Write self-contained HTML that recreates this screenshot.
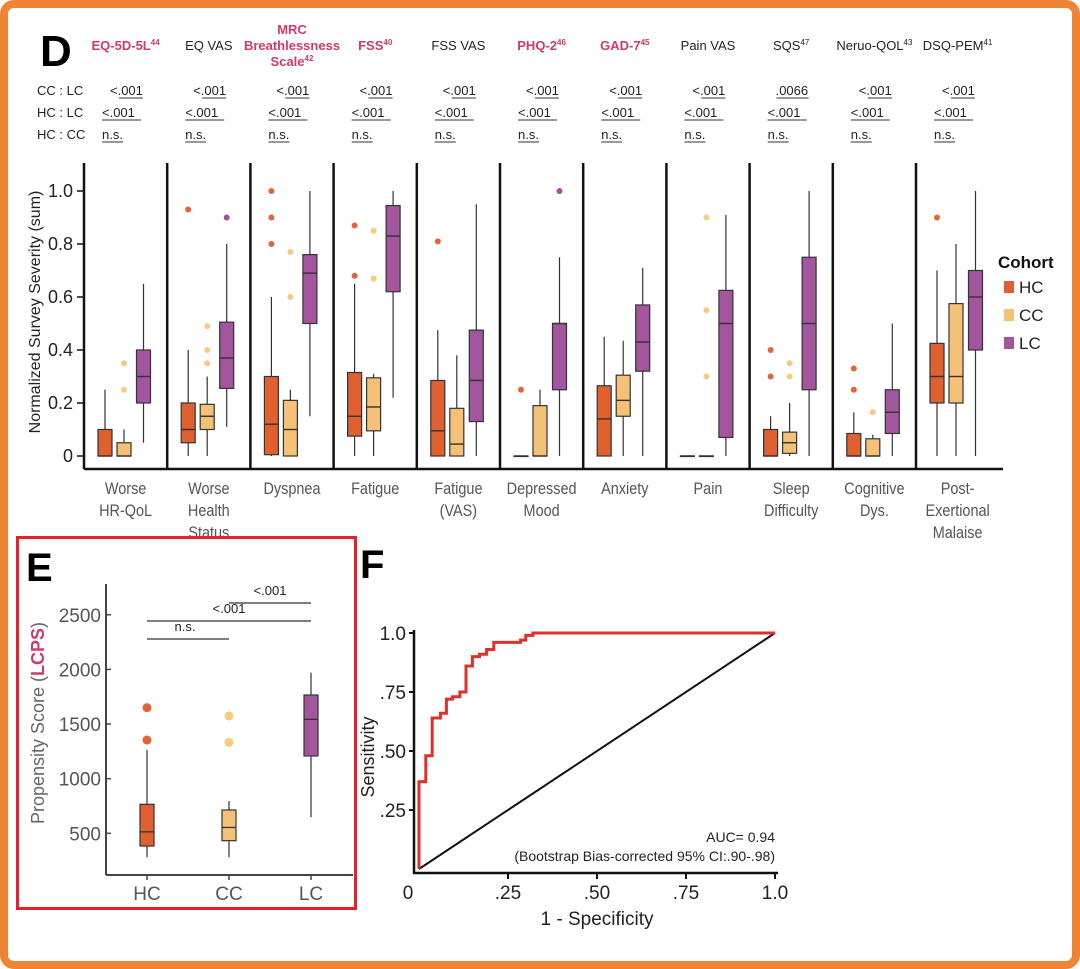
<!DOCTYPE html>
<html><head><meta charset="utf-8">
<style>
html,body{margin:0;padding:0;background:#fff;}
svg{display:block;font-family:"Liberation Sans",Arial,sans-serif;}
</style></head>
<body>
<svg id="fig" width="1080" height="969" viewBox="0 0 1080 969" xmlns="http://www.w3.org/2000/svg">
<rect x="4" y="4" width="1072" height="961" rx="10" fill="#fff" stroke="#ee8434" stroke-width="8"/>
<g id="panelD"></g>
<g id="panelE"></g>
<g id="panelF"></g>
</svg>
<script>
// ---------- Panel D data ----------
const categories = ["Worse HR-QoL","Worse Health Status","Dyspnea","Fatigue","Fatigue (VAS)","Depressed Mood","Anxiety","Pain","Sleep Difficulty","Cognitive Dys.","Post-Exertional Malaise"];
const catLines = [["Worse","HR-QoL"],["Worse","Health","Status"],["Dyspnea"],["Fatigue"],["Fatigue","(VAS)"],["Depressed","Mood"],["Anxiety"],["Pain"],["Sleep","Difficulty"],["Cognitive","Dys."],["Post-","Exertional","Malaise"]];
const surveys = [["EQ-5D-5L","44",1],["EQ VAS","",0],["MRC|Breathlessness|Scale","42",1],["FSS","40",1],["FSS VAS","",0],["PHQ-2","46",1],["GAD-7","45",1],["Pain VAS","",0],["SQS","47",0],["Neruo-QOL","43",0],["DSQ-PEM","41",0]];
const pCCLC = ["<.001","<.001","<.001","<.001","<.001","<.001","<.001","<.001",".0066","<.001","<.001"];
const pHCLC = ["<.001","<.001","<.001","<.001","<.001","<.001","<.001","<.001","<.001","<.001","<.001"];
const pHCCC = ["n.s.","n.s.","n.s.","n.s.","n.s.","n.s.","n.s.","n.s.","n.s.","n.s.","n.s."];
// [whiskerLow, q1, median, q3, whiskerHigh]
const hcStats = [[0,0,0,0.1,0.25],[0,0.05,0.1,0.2,0.4],[0,0.005,0.12,0.3,0.6],[0,0.075,0.15,0.315,0.65],[0,0,0.095,0.285,0.475],[0,0,0,0,0],[0,0,0.14,0.265,0.45],[0,0,0,0,0],[0,0,0,0.1,0.15],[0,0,0,0.085,0.165],[0,0.2,0.3,0.425,0.7]];
const ccStats = [[0,0,0,0.05,0.1],[0,0.1,0.15,0.195,0.3],[0,0,0.1,0.21,0.25],[0,0.095,0.185,0.295,0.31],[0,0,0.045,0.18,0.38],[0,0,0,0.19,0.25],[0,0.15,0.21,0.305,0.435],[0,0,0,0,0],[0,0.01,0.05,0.09,0.2],[0,0,0,0.065,0.08],[0,0.2,0.3,0.575,0.8]];
const lcStats = [[0.05,0.2,0.3,0.4,0.65],[0.11,0.255,0.37,0.505,0.8],[0.15,0.5,0.69,0.76,1.0],[0.22,0.62,0.83,0.945,1.0],[0,0.13,0.285,0.475,0.95],[0,0.25,0.5,0.5,0.75],[0,0.32,0.43,0.57,0.71],[0,0.07,0.5,0.625,0.91],[0,0.25,0.5,0.75,1.0],[0,0.085,0.165,0.25,0.5],[0,0.4,0.6,0.7,1.0]];
const hcOut = [[],[0.93],[0.8,0.9,1.0],[0.68,0.87],[0.81],[0.25],[],[],[0.3,0.4],[0.25,0.33],[0.9]];
const ccOut = [[0.25,0.35],[0.35,0.4,0.49],[0.6,0.77],[0.67,0.85],[],[],[],[0.3,0.55,0.9],[0.3,0.35],[0.165],[]];
const lcOut = [[],[0.9],[],[],[],[1.0],[],[],[],[],[]];
const yTicksD = [0,0.2,0.4,0.6,0.8,1.0];
const yTickLabelsD = ["0","0.2","0.4","0.6","0.8","1.0"];

// ---------- Panel E data ----------
const eGroups = ["HC","CC","LC"];
const eStats = [[281,384,514,766,1263],[281,433,554,714,796],[647,1208,1543,1766,1970]];
const eOut = [[1354,1650],[1333,1574],[]];
const eTicks = [500,1000,1500,2000,2500];

// ---------- Panel F data ----------
const rocFpr = [0,0,0.019,0.019,0.037,0.037,0.06,0.06,0.077,0.077,0.094,0.094,0.115,0.115,0.132,0.132,0.15,0.15,0.17,0.17,0.19,0.19,0.21,0.21,0.285,0.285,0.30,0.30,0.32,0.32,1.0];
const rocTpr = [0,0.37,0.37,0.48,0.48,0.64,0.64,0.66,0.66,0.72,0.72,0.73,0.73,0.75,0.75,0.86,0.86,0.90,0.90,0.91,0.91,0.93,0.93,0.96,0.96,0.97,0.97,0.99,0.99,1.0,1.0];
const fTicks = [0.25,0.5,0.75,1.0];
const fTickLabels = [".25",".50",".75","1.0"];

const NS="http://www.w3.org/2000/svg";
const colors={HC:"#e0602f",CC:"#f5c176",LC:"#a3559d"};
const outColors={HC:"#e4643a",CC:"#f7c983",LC:"#a44fa0"};
function mk(parent,tag,attrs,text){const e=document.createElementNS(NS,tag);for(const k in attrs)e.setAttribute(k,attrs[k]);if(text!==undefined)e.textContent=text;parent.appendChild(e);return e;}

// ===== Panel D =====
const D=document.getElementById('panelD');
const dX0=84, colW=83.2, dXend=1003;
const yD=v=>456-v*265;
const colLeft=i=>dX0+i*colW;
let t;
t=mk(D,'text',{x:40,y:66,'font-size':44,'font-weight':'bold',fill:'#000'},'D');


[["CC : LC",95],["HC : LC",117],["HC : CC",139]].forEach(r=>{
  t=mk(D,'text',{x:37,y:r[1],'font-size':13,fill:'#222'},r[0]);
  
  
});
let ax=mk(D,'line',{x1:dX0,y1:163,x2:dX0,y2:469,stroke:'#111','stroke-width':2.5});


ax=mk(D,'line',{x1:dX0,y1:469,x2:dXend,y2:469,stroke:'#111','stroke-width':2.5});


yTicksD.forEach((v,k)=>{
  mk(D,'line',{x1:77,y1:yD(v),x2:dX0,y2:yD(v),stroke:'#111','stroke-width':1.5});
  t=mk(D,'text',{x:73,y:yD(v)+6,'font-size':18,'text-anchor':'end',fill:'#222'},yTickLabelsD[k]);
  
  
});
t=mk(D,'text',{x:0,y:0,'font-size':16,'text-anchor':'middle',fill:'#222',transform:'translate(40,312) rotate(-90)'},'Normalized Survey Severity (sum)');



function drawBox(g,cx,s,col,ocol,outs,name){
  const w=14;
  const wl=mk(g,'line',{x1:cx,y1:yD(s[0]),x2:cx,y2:yD(s[4]),stroke:'#333','stroke-width':1.2});
  
  
  const r=mk(g,'rect',{x:cx-w/2,y:yD(s[3]),width:w,height:Math.max(0.5,yD(s[1])-yD(s[3])),fill:col,stroke:'#333','stroke-width':1.2});
  
  
  const m=mk(g,'line',{x1:cx-w/2,y1:yD(s[2]),x2:cx+w/2,y2:yD(s[2]),stroke:'#333','stroke-width':1.4});
  
  
  outs.forEach(o=>{
    const c=mk(g,'circle',{cx:cx,cy:yD(o),r:3,fill:ocol});
    
    
  });
}
categories.forEach((cat,i)=>{
  const L=colLeft(i), C=L+colW/2;
  const g=mk(D,'g',{});
  
  
  if(i>0){const s=mk(g,'line',{x1:L,y1:163,x2:L,y2:469,stroke:'#111','stroke-width':2.5});
    
    }
  const sv=surveys[i]; const lines=sv[0].split('|');
  const pink=sv[2]===1;
  lines.forEach((ln,k)=>{
    const yy = lines.length===3 ? 34+k*16 : 50;
    const tx=mk(g,'text',{x:C,y:yy,'font-size':13,'text-anchor':'middle',fill:pink?'#cf3a6c':'#222','font-weight':pink?'bold':'normal'},ln);
    if(k===lines.length-1 && sv[1]){mk(tx,'tspan',{'font-size':8,dy:-5},sv[1]);}
    
    
  });
  const p1=mk(g,'text',{x:L+26,y:95,'font-size':13,fill:'#222'},pCCLC[i]);
  
  
  mk(g,'line',{x1:L+(pCCLC[i][0]==='<'?35:27),y1:98,x2:L+59,y2:98,stroke:'#333','stroke-width':1});
  const p2=mk(g,'text',{x:L+18,y:117,'font-size':13,fill:'#222'},pHCLC[i]);
  
  
  mk(g,'line',{x1:L+18,y1:120,x2:L+57,y2:120,stroke:'#333','stroke-width':1});
  const p3=mk(g,'text',{x:L+18,y:139,'font-size':13,fill:'#222'},pHCCC[i]);
  
  
  mk(g,'line',{x1:L+18,y1:142,x2:L+39,y2:142,stroke:'#333','stroke-width':1});
  drawBox(g,L+21,hcStats[i],colors.HC,outColors.HC,hcOut[i],'hc');
  drawBox(g,L+40,ccStats[i],colors.CC,outColors.CC,ccOut[i],'cc');
  drawBox(g,L+59.5,lcStats[i],colors.LC,outColors.LC,lcOut[i],'lc');
  catLines[i].forEach((ln,k)=>{
    const tx=mk(g,'text',{x:0,y:0,'font-size':17,'text-anchor':'middle',fill:'#555',transform:'translate('+C+','+(494+k*22)+') scale(0.85,1)'},ln);
    
    
  });
});
const lg=mk(D,'g',{});


t=mk(lg,'text',{x:998,y:268,'font-size':17,'font-weight':'bold',fill:'#111'},'Cohort');


[["HC",287],["CC",315],["LC",343]].forEach(e=>{
  const r=mk(lg,'rect',{x:1004,y:e[1]-6,width:10,height:12,fill:colors[e[0]]});
  
  
  const tx=mk(lg,'text',{x:1019,y:e[1]+6,'font-size':17,fill:'#222'},e[0]);
  
  
});

// ===== Panel E =====
const E=document.getElementById('panelE');
const yE=v=>888-v*0.1093;
const xE=i=>147+i*82;
let rb=mk(E,'rect',{x:17.5,y:537.5,width:338,height:371,fill:'#fff',stroke:'#e8202a','stroke-width':3});


t=mk(E,'text',{x:26,y:581,'font-size':40,'font-weight':'bold',fill:'#000'},'E');


ax=mk(E,'line',{x1:106,y1:584,x2:106,y2:875,stroke:'#444','stroke-width':2});


ax=mk(E,'line',{x1:106,y1:875,x2:353,y2:875,stroke:'#444','stroke-width':2});


eTicks.forEach(v=>{
  mk(E,'line',{x1:106,y1:yE(v),x2:111,y2:yE(v),stroke:'#444','stroke-width':1.5});
  const tx=mk(E,'text',{x:101,y:yE(v)+7,'font-size':19,'text-anchor':'end',fill:'#555'},String(v));
  
  
});
t=mk(E,'text',{x:0,y:0,'font-size':18,'text-anchor':'middle',fill:'#666',transform:'translate(44,723) rotate(-90)'});
mk(t,'tspan',{},'Propensity Score (');
mk(t,'tspan',{fill:'#cf3a6c','font-weight':'bold'},'LCPS');
mk(t,'tspan',{},')');


eGroups.forEach((gname,i)=>{
  const cx=xE(i), s=eStats[i], w=14;
  mk(E,'line',{x1:cx,y1:875,x2:cx,y2:880,stroke:'#444','stroke-width':1.5});
  const wl=mk(E,'line',{x1:cx,y1:yE(s[0]),x2:cx,y2:yE(s[4]),stroke:'#333','stroke-width':1.2});
  
  
  const r=mk(E,'rect',{x:cx-w/2,y:yE(s[3]),width:w,height:yE(s[1])-yE(s[3]),fill:colors[gname],stroke:'#333','stroke-width':1.2});
  
  
  const m=mk(E,'line',{x1:cx-w/2,y1:yE(s[2]),x2:cx+w/2,y2:yE(s[2]),stroke:'#333','stroke-width':1.3});
  
  
  eOut[i].forEach(o=>{
    const c=mk(E,'circle',{cx:cx,cy:yE(o),r:4.5,fill:outColors[gname]});
    
    
  });
  const tx=mk(E,'text',{x:cx,y:900,'font-size':19,'text-anchor':'middle',fill:'#555'},gname);
  
  
});
[[0,1,639,'n.s.',631],[0,2,621,'<.001',613],[1,2,603,'<.001',595]].forEach(b=>{
  const l=mk(E,'line',{x1:xE(b[0]),y1:b[2],x2:xE(b[1]),y2:b[2],stroke:'#333','stroke-width':1.2});
  
  
  const tx=mk(E,'text',{x:(xE(b[0])+xE(b[1]))/2 + (b[3]==='n.s.'?-3:0),y:b[4],'font-size':13,'text-anchor':'middle',fill:'#222'},b[3]);
  
  
});

// ===== Panel F =====
const F=document.getElementById('panelF');
const xF=v=>419+v*356;
const yF=v=>869-v*236;
t=mk(F,'text',{x:360,y:578,'font-size':40,'font-weight':'bold',fill:'#000'},'F');


ax=mk(F,'line',{x1:414,y1:630,x2:414,y2:874,stroke:'#111','stroke-width':2.5});


ax=mk(F,'line',{x1:413,y1:873,x2:778,y2:873,stroke:'#111','stroke-width':2.5});


fTicks.forEach((v,k)=>{
  mk(F,'line',{x1:414,y1:yF(v),x2:409,y2:yF(v),stroke:'#111','stroke-width':2});
  const ty=mk(F,'text',{x:406,y:yF(v)+7,'font-size':19,'text-anchor':'end',fill:'#222'},fTickLabels[k]);
  
  
  mk(F,'line',{x1:xF(v),y1:873,x2:xF(v),y2:879,stroke:'#111','stroke-width':2});
  const tx=mk(F,'text',{x:xF(v),y:899,'font-size':19,'text-anchor':'middle',fill:'#222'},fTickLabels[k]);
  
  
});
t=mk(F,'text',{x:408,y:899,'font-size':19,'text-anchor':'middle',fill:'#222'},'0');


t=mk(F,'text',{x:597,y:925,'font-size':19,'text-anchor':'middle',fill:'#222'},'1 - Specificity');


t=mk(F,'text',{x:0,y:0,'font-size':18,'text-anchor':'middle',fill:'#222',transform:'translate(374,757) rotate(-90)'},'Sensitivity');


const diag=mk(F,'line',{x1:xF(0),y1:yF(0),x2:xF(1),y2:yF(1),stroke:'#111','stroke-width':2});


let d='';
rocFpr.forEach((f,k)=>{d+=(k?'L':'M')+xF(f).toFixed(1)+','+yF(rocTpr[k]).toFixed(1);});
const roc=mk(F,'path',{d:d,fill:'none',stroke:'#e0302a','stroke-width':3,'stroke-linejoin':'miter'});


t=mk(F,'text',{x:775,y:842,'font-size':14,'text-anchor':'end',fill:'#222'},'AUC= 0.94');


t=mk(F,'text',{x:775,y:861,'font-size':14,'text-anchor':'end',fill:'#222'},'(Bootstrap Bias-corrected 95% CI:.90-.98)');


</script>
</body></html>
